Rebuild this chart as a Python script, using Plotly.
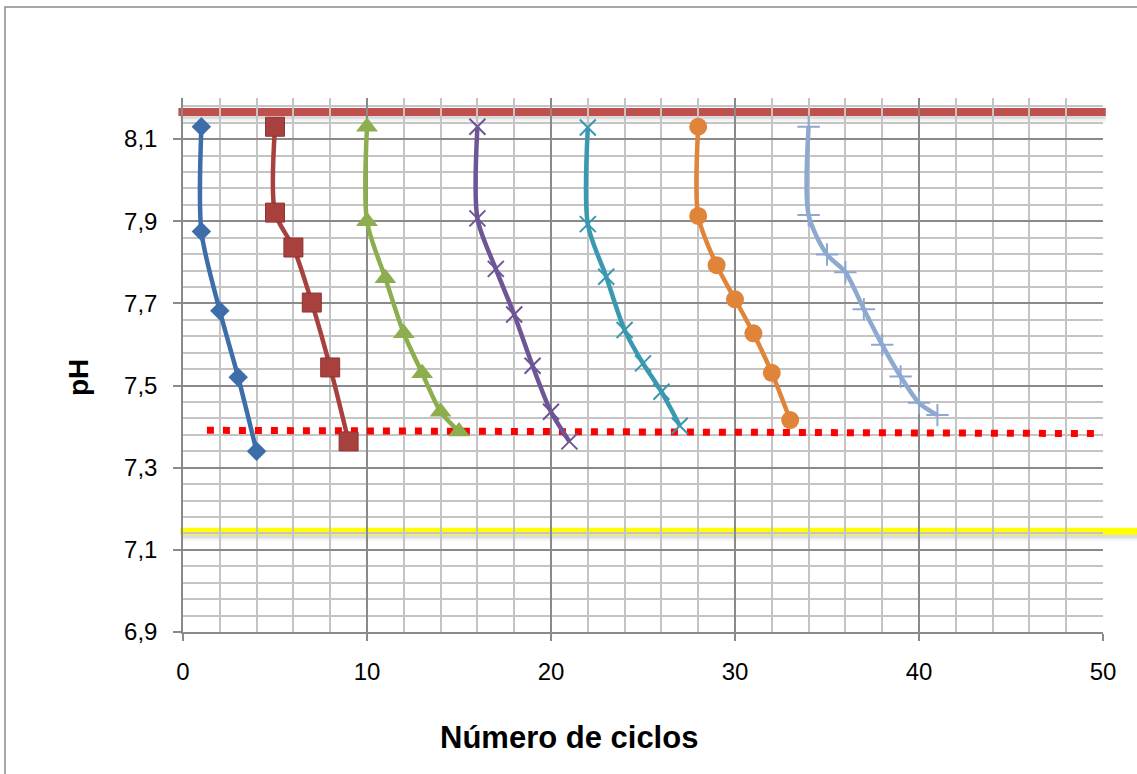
import plotly.graph_objects as go

# pH readings per cycle block (x = cycle number, y = pH)
s1_x = [1, 1, 2, 3, 4]
s1_y = [8.13, 7.875, 7.682, 7.52, 7.34]

s2_x = [5, 5, 6, 7, 8, 9]
s2_y = [8.13, 7.921, 7.836, 7.702, 7.544, 7.364]

s3_x = [10, 10, 11, 12, 13, 14, 15]
s3_y = [8.13, 7.90, 7.761, 7.627, 7.53, 7.436, 7.388]

s4_x = [16, 16, 17, 18, 19, 20, 21]
s4_y = [8.13, 7.907, 7.784, 7.673, 7.548, 7.436, 7.364]

s5_x = [22, 22, 23, 24, 25, 26, 27]
s5_y = [8.128, 7.893, 7.765, 7.635, 7.554, 7.485, 7.402]

s6_x = [28, 28, 29, 30, 31, 32, 33]
s6_y = [8.13, 7.913, 7.793, 7.71, 7.627, 7.531, 7.416]

s7_x = [34, 34, 35, 36, 37, 38, 39, 40, 41]
s7_y = [8.13, 7.915, 7.819, 7.776, 7.686, 7.599, 7.522, 7.458, 7.428]

# reference levels
upper_limit = 8.166
lower_limit = 7.145
dotted_x = [1.3, 50]
dotted_y = [7.391, 7.383]

x_range = [0, 50]
y_range = [6.9, 8.2]

# plot-area geometry (pixels)
W, H = 1137, 774
ML, MR, MT, MB = 183, 34, 98, 142
plot_h = H - MT - MB
px_per_unit = plot_h / (y_range[1] - y_range[0])

series = [
    (s1_x, s1_y, "#3E6EAA", dict(symbol="diamond", size=15)),
    (s2_x, s2_y, "#A8413D", dict(symbol="square", size=19,
                                  line=dict(color="#8E3532", width=1))),
    (s3_x, s3_y, "#8DAE4F", dict(symbol="triangle-up", size=19)),
    (s4_x, s4_y, "#6E5595", dict(symbol="x-thin", size=16,
                                  line=dict(color="#6E5595", width=2))),
    (s5_x, s5_y, "#3A98B1", dict(symbol="x-thin", size=16,
                                  line=dict(color="#3A98B1", width=2))),
    (s6_x, s6_y, "#E0843A", dict(symbol="circle", size=18)),
    (s7_x, s7_y, "#8EA9D0", dict(symbol="cross-thin", size=16,
                                  line=dict(color="#8EA9D0", width=2))),
]

fig = go.Figure()

fig.add_trace(go.Scatter(
    x=dotted_x, y=dotted_y, mode="lines",
    line=dict(color="#FF0000", width=7, dash="7px,9px"),
    hoverinfo="skip", showlegend=False,
))

for xs, ys, color, mk in series:
    mk = dict(mk)
    mk.setdefault("color", color)
    fig.add_trace(go.Scatter(
        x=xs, y=ys, mode="lines+markers",
        line=dict(color=color, width=4.5, shape="spline", smoothing=0.8),
        marker=mk, showlegend=False,
    ))

shapes = []
# soft drop shadows under the two solid limit lines
for level, x0, x1 in [(upper_limit, -0.005, 1.003), (lower_limit, -0.003, 1.1)]:
    for off, w, a in [(4, 11, 0.05), (3, 8, 0.09)]:
        yy = level - off / px_per_unit
        shapes.append(dict(type="line", xref="paper", yref="y",
                           x0=x0 + 0.002, x1=x1, y0=yy, y1=yy, layer="between",
                           line=dict(color=f"rgba(0,0,0,{a})", width=w)))
shapes.append(dict(type="line", xref="paper", yref="y", x0=-0.005, x1=1.003,
                   y0=upper_limit, y1=upper_limit, layer="between",
                   line=dict(color="#C0504D", width=8)))
shapes.append(dict(type="line", xref="paper", yref="y", x0=-0.003, x1=1.1,
                   y0=lower_limit, y1=lower_limit, layer="between",
                   line=dict(color="#FFFF00", width=7)))
# chart frame
shapes.append(dict(type="rect", xref="paper", yref="paper",
                   x0=(5 - ML) / (W - ML - MR), x1=1.1,
                   y0=-0.4, y1=(H - MB - 7) / plot_h,
                   line=dict(color="#8A8A8A", width=1.5), layer="below"))

font_family = "Liberation Sans, Arial, sans-serif"

fig.update_layout(
    width=W, height=H,
    margin=dict(l=ML, r=MR, t=MT, b=MB),
    paper_bgcolor="white", plot_bgcolor="white",
    separators=",.",
    font=dict(family=font_family, size=24, color="black"),
    shapes=shapes,
    annotations=[
        dict(text="<b>Número de ciclos</b>", xref="paper", yref="paper",
             x=(568.5 - ML) / (W - ML - MR), y=(H - MB - 737) / plot_h,
             xanchor="center", yanchor="middle", showarrow=False,
             font=dict(size=31, family=font_family, color="black")),
        dict(text="<b>pH</b>", xref="paper", yref="paper",
             x=(78 - ML) / (W - ML - MR), y=(H - MB - 378) / plot_h,
             xanchor="center", yanchor="middle", textangle=-90, showarrow=False,
             font=dict(size=28, family=font_family, color="black")),
    ],
)

fig.update_xaxes(
    range=x_range, tick0=0, dtick=10,
    showgrid=True, gridcolor="#8A8A8A", gridwidth=1.5,
    minor=dict(dtick=2, showgrid=True, gridcolor="#C4C4C4", gridwidth=1.5,
               ticks=""),
    ticks="outside", ticklen=7, tickwidth=1.5, tickcolor="#8A8A8A",
    showline=True, linecolor="#8A8A8A", linewidth=1.5,
    zeroline=False, ticklabelstandoff=10,
    tickfont=dict(size=24),
)
fig.update_yaxes(
    range=y_range, tick0=6.9, dtick=0.2, tickformat=".1f",
    showgrid=True, gridcolor="#8A8A8A", gridwidth=1.5,
    minor=dict(dtick=0.04, tick0=6.9, showgrid=True, gridcolor="#C4C4C4",
               gridwidth=1.5, ticks=""),
    ticks="outside", ticklen=8, tickwidth=1.5, tickcolor="#8A8A8A",
    showline=True, linecolor="#8A8A8A", linewidth=1.5,
    zeroline=False, ticklabelstandoff=11,
    tickfont=dict(size=24),
)

fig.write_html("out.html")
